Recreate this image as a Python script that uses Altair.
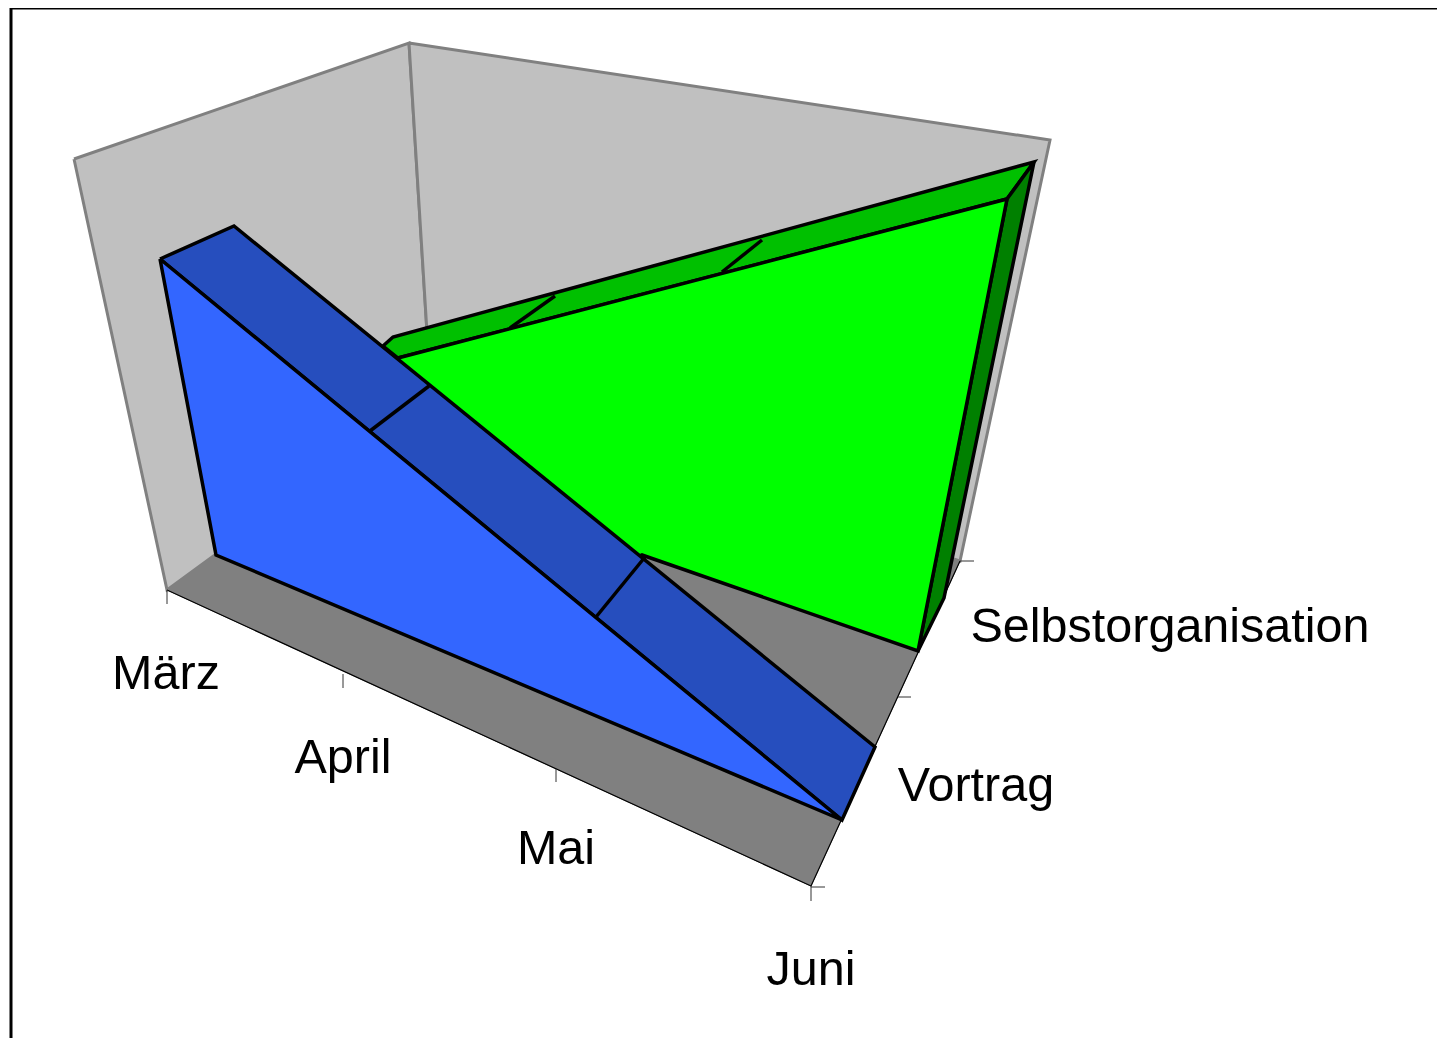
import altair as alt
import pandas as pd

# Vertices, in picture units (x right, y down)
left_wall_x = [74, 409, 431, 167]
left_wall_y = [159, 43, 397, 590]
right_wall_x = [409, 1050, 960, 431]
right_wall_y = [43, 140, 561, 397]
floor_x = [167, 431, 960, 811]
floor_y = [590, 397, 561, 886]

green_front_x = [398, 1007, 918, 642, 620, 398]
green_front_y = [358, 199, 651, 555, 565, 378]
green_top_x = [383, 393, 1034, 1007, 398]
green_top_y = [346, 337, 162, 199, 358]
green_side_x = [1034, 1007, 918, 944]
green_side_y = [162, 199, 651, 598]
green_div1_x = [510, 555]
green_div1_y = [328, 296]
green_div2_x = [722, 762]
green_div2_y = [272, 240]

blue_front_x = [160, 216, 842]
blue_front_y = [259, 555, 820]
blue_top_x = [160, 234, 875, 842]
blue_top_y = [259, 226, 747, 820]
blue_div1_x = [370, 429]
blue_div1_y = [431, 386]
blue_div2_x = [596, 645]
blue_div2_y = [617, 557]

front_edge_x = [167, 811, 960]
front_edge_y = [590, 886, 561]
frame_x = [11, 11, 1460]
frame_y = [1060, 8, 8]

month_labels = ["März", "April", "Mai", "Juni"]
month_x = [166, 343, 556, 811]
month_y = [689, 773, 864, 985]
series_labels = ["Vortrag", "Selbstorganisation"]
series_x = [976, 1170]
series_y = [801, 642]

month_tick_x = [167, 343, 556, 811]
month_tick_y0 = [590, 674, 769, 886]
month_tick_y1 = [604, 688, 782, 901]
series_tick_x0 = [811, 898, 960]
series_tick_x1 = [825, 911, 974]
series_tick_y = [887, 697, 561]

W, H = 1429, 1030
X = alt.Scale(domain=[8, 8 + W], range=[0, W], nice=False, zero=False)
Y = alt.Scale(domain=[8, 8 + H], range=[0, H], nice=False, zero=False)


def path(xs, ys, closed=True, **mark):
    xs, ys = list(xs), list(ys)
    if closed:
        xs.append(xs[0])
        ys.append(ys[0])
    df = pd.DataFrame({"px": xs, "py": ys, "i": range(len(xs))})
    return alt.Chart(df).mark_line(clip=False, strokeJoin="miter", strokeCap="butt", **mark).encode(
        x=alt.X("px:Q", scale=X, axis=None),
        y=alt.Y("py:Q", scale=Y, axis=None),
        order="i:O",
    )


GREY = "#808080"
layers = [
    path(left_wall_x, left_wall_y, fill="#C0C0C0", stroke=GREY, strokeWidth=3),
    path(right_wall_x, right_wall_y, fill="#C0C0C0", stroke=GREY, strokeWidth=3),
    path(floor_x, floor_y, fill=GREY, stroke=GREY, strokeWidth=1),
    path(front_edge_x, front_edge_y, closed=False, stroke="black", strokeWidth=1.2),
    path(green_top_x, green_top_y, fill="#00C000", stroke="black", strokeWidth=3.5),
    path(green_side_x, green_side_y, fill="#008000", stroke="black", strokeWidth=3.5),
    path(green_front_x, green_front_y, fill="#00FF00", stroke="black", strokeWidth=3.5),
    path(green_div1_x, green_div1_y, closed=False, stroke="black", strokeWidth=3.5),
    path(green_div2_x, green_div2_y, closed=False, stroke="black", strokeWidth=3.5),
    path(blue_top_x, blue_top_y, fill="#264EBE", stroke="black", strokeWidth=3.5),
    path(blue_front_x, blue_front_y, fill="#3366FF", stroke="black", strokeWidth=3.5),
    path(blue_div1_x, blue_div1_y, closed=False, stroke="black", strokeWidth=3.5),
    path(blue_div2_x, blue_div2_y, closed=False, stroke="black", strokeWidth=3.5),
    path(frame_x, frame_y, closed=False, stroke="black", strokeWidth=3),
]

for xv, a, b in zip(month_tick_x, month_tick_y0, month_tick_y1):
    layers.append(path([xv, xv], [a, b], closed=False, stroke="#333333", strokeWidth=1))
for a, b, yv in zip(series_tick_x0, series_tick_x1, series_tick_y):
    layers.append(path([a, b], [yv, yv], closed=False, stroke="#333333", strokeWidth=1))

labels = pd.DataFrame({
    "t": month_labels + series_labels,
    "px": month_x + series_x,
    "py": month_y + series_y,
})
layers.append(
    alt.Chart(labels).mark_text(
        font="Liberation Sans", fontSize=48.5, color="black",
        align="center", baseline="alphabetic",
    ).encode(
        x=alt.X("px:Q", scale=X, axis=None),
        y=alt.Y("py:Q", scale=Y, axis=None),
        text="t:N",
    )
)

chart = alt.layer(*layers).properties(
    width=W, height=H, padding=0, autosize=alt.AutoSizeParams(type="none"),
    background="white",
).configure_view(stroke=None)

chart.save("out.html", embed_options={"renderer": "svg", "actions": False})
